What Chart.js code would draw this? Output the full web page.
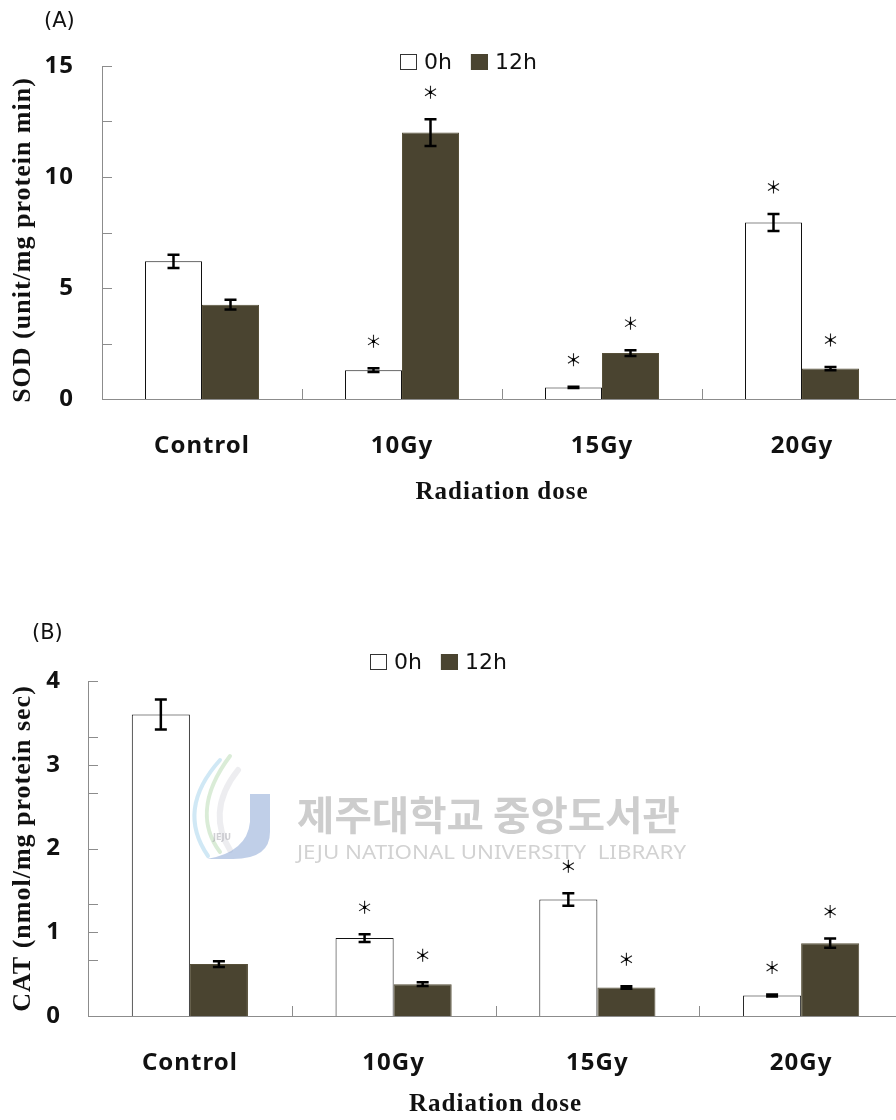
<!DOCTYPE html>
<html>
<head>
<meta charset="utf-8">
<script src="https://cdn.jsdelivr.net/npm/chart.js@4.4.1/dist/chart.umd.min.js"></script>
<style>
  html, body { margin: 0; padding: 0; background: #fff; overflow: hidden; width: 896px; height: 1120px; }
  canvas { position: absolute; left: 0; }
  .panel { position: absolute; font-family: "DejaVu Sans", sans-serif; font-size: 21px; color: #111; }
</style>
</head>
<body>
<canvas id="sod" width="910" height="560" style="top:0"></canvas>
<canvas id="cat" width="910" height="560" style="top:560px"></canvas>
<div class="panel" style="left:44px;top:8px">(A)</div>
<div class="panel" style="left:32px;top:620px">(B)</div>
<script>
// Radiation dose groups and sampling times
const doses = ['Control', '10Gy', '15Gy', '20Gy'];
const seriesNames = ['0h', '12h'];

// SOD activity (unit/mg protein min), mean and error
const sod0h = [6.2, 1.3, 0.52, 7.95];
const sod0hErr = [0.3, 0.08, 0.03, 0.38];
const sod12h = [4.25, 12.0, 2.07, 1.37];
const sod12hErr = [0.22, 0.6, 0.13, 0.07];
const sod0hSig = [false, true, true, true];
const sod12hSig = [false, true, true, true];
const sodMinorTicks = [2.5, 7.5, 12.5];

// CAT activity (nmol/mg protein sec), mean and error
const cat0h = [3.6, 0.93, 1.39, 0.245];
const cat0hErr = [0.18, 0.045, 0.075, 0.012];
const cat12h = [0.62, 0.38, 0.34, 0.87];
const cat12hErr = [0.035, 0.022, 0.015, 0.055];
const cat0hSig = [false, true, true, true];
const cat12hSig = [false, true, true, true];
const catMinorTicks = [0.667, 1.333, 2.667, 3.333];

const WHITE = '#ffffff';
const OLIVE = '#4a4430';
const AXIS = '#8c8c8c';
const INK = '#111111';

function drawAsterisk(ctx, x, y) {
  ctx.save();
  ctx.strokeStyle = '#222';
  ctx.lineWidth = 1.1;
  ctx.beginPath();
  ctx.moveTo(x, y - 6.5); ctx.lineTo(x, y + 6.5);
  ctx.moveTo(x - 5.5, y - 3.5); ctx.lineTo(x + 5.5, y + 3.5);
  ctx.moveTo(x - 5.5, y + 3.5); ctx.lineTo(x + 5.5, y - 3.5);
  ctx.stroke();
  ctx.fillStyle = '#000';
  ctx.fillRect(x - 1.5, y - 1.5, 3, 3);
  ctx.restore();
}

// Slightly open letter spacing for all axis text
const spacingPlugin = {
  id: 'spacing',
  beforeDraw(chart) { chart.ctx.letterSpacing = '1px'; }
};

// Error bars, significance marks, inward tick marks and the legend
const decorPlugin = {
  id: 'decor',
  afterDatasetsDraw(chart, args, opts) {
    const ctx = chart.ctx;
    const yScale = chart.scales.y;
    chart.data.datasets.forEach((ds, i) => {
      const meta = chart.getDatasetMeta(i);
      meta.data.forEach((bar, j) => {
        const v = ds.data[j], e = ds.errors[j];
        const yTop = yScale.getPixelForValue(v + e);
        const yBot = yScale.getPixelForValue(v - e);
        ctx.save();
        ctx.strokeStyle = '#000';
        ctx.lineWidth = 2.5;
        ctx.beginPath();
        ctx.moveTo(bar.x, yTop); ctx.lineTo(bar.x, yBot);
        ctx.moveTo(bar.x - 6, yTop); ctx.lineTo(bar.x + 6, yTop);
        ctx.moveTo(bar.x - 6, yBot); ctx.lineTo(bar.x + 6, yBot);
        ctx.stroke();
        ctx.restore();
        if (ds.sig[j]) drawAsterisk(ctx, bar.x, yTop - opts.starGap);
      });
    });
  },
  afterDraw(chart, args, opts) {
    const ctx = chart.ctx;
    const y = chart.scales.y, x = chart.scales.x;
    ctx.save();
    ctx.letterSpacing = '0px';
    ctx.strokeStyle = AXIS;
    ctx.lineWidth = 1;
    ctx.beginPath();
    const yVals = y.ticks.map(t => t.value).concat(opts.minorTicks);
    yVals.forEach(v => {
      const py = Math.round(y.getPixelForValue(v)) + 0.5;
      ctx.moveTo(y.right, py); ctx.lineTo(y.right + 10, py);
    });
    for (let i = 1; i < chart.data.labels.length; i++) {
      const px = Math.round((x.getPixelForValue(i - 1) + x.getPixelForValue(i)) / 2) + 0.5;
      ctx.moveTo(px, x.top); ctx.lineTo(px, x.top - 10);
    }
    ctx.stroke();

    // legend
    let lx = opts.legendX;
    const ly = opts.legendY;
    ctx.font = '22px "DejaVu Sans", sans-serif';
    ctx.textBaseline = 'middle';
    ctx.textAlign = 'left';
    chart.data.datasets.forEach(ds => {
      ctx.fillStyle = ds.backgroundColor;
      ctx.fillRect(lx, ly - 8, 17, 16);
      ctx.strokeStyle = ds.backgroundColor === WHITE ? '#333' : ds.backgroundColor;
      ctx.strokeRect(lx + 0.5, ly - 7.5, 16, 15);
      ctx.fillStyle = INK;
      ctx.fillText(ds.label, lx + 24, ly + 1);
      lx += 24 + ctx.measureText(ds.label).width + 19;
    });
    ctx.restore();
  }
};

// Faint library watermark behind the bars
const watermarkPlugin = {
  id: 'watermark',
  beforeDatasetsDraw(chart, args, opts) {
    if (!opts.show) return;
    const ctx = chart.ctx;
    ctx.save();
    ctx.letterSpacing = '0px';
    ctx.lineCap = 'round';
    const swirl = (color, w, pts) => {
      ctx.strokeStyle = color; ctx.lineWidth = w;
      ctx.beginPath(); ctx.moveTo(pts[0], pts[1]);
      ctx.bezierCurveTo(pts[2], pts[3], pts[4], pts[5], pts[6], pts[7]);
      ctx.stroke();
    };
    swirl('rgba(120,190,225,0.35)', 4, [220, 200, 186, 238, 190, 270, 208, 296]);
    swirl('rgba(150,200,140,0.35)', 4, [230, 196, 200, 236, 202, 268, 220, 292]);
    swirl('rgba(195,195,205,0.3)', 6, [238, 210, 214, 240, 216, 268, 230, 290]);
    // J shape
    ctx.fillStyle = 'rgba(140,168,214,0.55)';
    ctx.beginPath();
    ctx.moveTo(250, 234); ctx.lineTo(270, 234); ctx.lineTo(270, 272);
    ctx.quadraticCurveTo(270, 299, 233, 299);
    ctx.lineTo(207, 299);
    ctx.quadraticCurveTo(247, 292, 250, 262);
    ctx.closePath(); ctx.fill();
    ctx.fillStyle = 'rgba(150,150,160,0.45)';
    ctx.font = 'bold 8px "DejaVu Sans", sans-serif';
    ctx.textAlign = 'center';
    ctx.fillText('JEJU', 222, 280);
    // text
    ctx.textAlign = 'left';
    ctx.textBaseline = 'middle';
    const fitText = (txt, font, color, x, y, w) => {
      ctx.font = font;
      const m = ctx.measureText(txt).width;
      ctx.save();
      ctx.translate(x, y);
      ctx.scale(w / m, 1);
      ctx.fillStyle = color;
      ctx.fillText(txt, 0, 0);
      ctx.restore();
    };
    fitText('제주대학교 중앙도서관', 'bold 40px "Noto Sans CJK KR", sans-serif', '#cdcdcd', 297, 255, 383);
    fitText('JEJU NATIONAL UNIVERSITY  LIBRARY', '19px "Noto Sans", sans-serif', '#d2d2d2', 297, 294, 389);
    ctx.restore();
  }
};

function makeChart(id, cfg) {
  const tickFont = { family: '"Noto Sans", sans-serif', size: 24, weight: 'bold' };
  return new Chart(document.getElementById(id), {
    type: 'bar',
    data: {
      labels: doses,
      datasets: [
        { label: seriesNames[0], data: cfg.v0, errors: cfg.e0, sig: cfg.s0,
          backgroundColor: WHITE, borderColor: INK, borderWidth: 1,
          categoryPercentage: 0.57, barPercentage: 1.0 },
        { label: seriesNames[1], data: cfg.v1, errors: cfg.e1, sig: cfg.s1,
          backgroundColor: OLIVE, borderColor: '#575039', borderWidth: 1,
          categoryPercentage: 0.57, barPercentage: 1.0 }
      ]
    },
    options: {
      responsive: false,
      animation: false,
      events: [],
      layout: { padding: { left: 0, top: cfg.top, right: cfg.right, bottom: 0 } },
      plugins: {
        legend: { display: false },
        tooltip: { enabled: false },
        decor: { legendX: cfg.legendX, legendY: cfg.legendY, starGap: 27, minorTicks: cfg.minor },
        watermark: { show: cfg.watermark }
      },
      scales: {
        x: {
          type: 'category',
          offset: true,
          afterFit(s) { s.height = cfg.xHeight; },
          grid: { display: false, drawTicks: false, offset: true },
          border: { display: true, color: AXIS, width: 1 },
          ticks: { autoSkip: false, maxRotation: 0, padding: 33, font: tickFont, color: INK },
          title: { display: true, text: 'Radiation dose', color: INK,
                   font: { family: '"Liberation Serif", serif', size: 25, weight: 'bold' },
                   padding: { top: 0, bottom: cfg.xTitlePad } }
        },
        y: {
          min: 0, max: cfg.max,
          afterFit(s) { s.width = cfg.yWidth; },
          grid: { display: false, drawTicks: false },
          border: { display: true, color: AXIS, width: 1 },
          ticks: { stepSize: cfg.step, padding: cfg.yPad, font: tickFont, color: INK },
          title: { display: true, text: cfg.yTitle, color: INK,
                   font: { family: '"Liberation Serif", serif', size: 26, weight: 'bold' },
                   padding: { top: 8, bottom: 0 } }
        }
      }
    },
    plugins: [spacingPlugin, watermarkPlugin, decorPlugin]
  });
}

makeChart('sod', {
  v0: sod0h, e0: sod0hErr, s0: sod0hSig,
  v1: sod12h, e1: sod12hErr, s1: sod12hSig,
  max: 15, step: 5, minor: sodMinorTicks,
  yTitle: 'SOD (unit/mg protein min)  ',
  top: 66, right: 8, yWidth: 102, yPad: 28, xHeight: 161, xTitlePad: 52,
  legendX: 400, legendY: 62, watermark: false
});

makeChart('cat', {
  v0: cat0h, e0: cat0hErr, s0: cat0hSig,
  v1: cat12h, e1: cat12hErr, s1: cat12hSig,
  max: 4, step: 1, minor: catMinorTicks,
  yTitle: 'CAT (nmol/mg protein sec)',
  top: 121, right: 7, yWidth: 88, yPad: 27, xHeight: 104, xTitlePad: 0,
  legendX: 370, legendY: 102, watermark: true
});
</script>
</body>
</html>
